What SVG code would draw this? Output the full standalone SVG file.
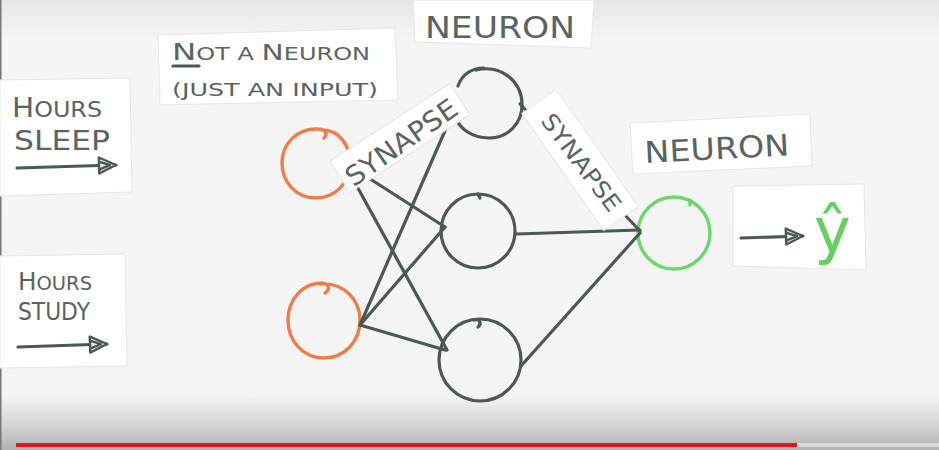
<svg xmlns="http://www.w3.org/2000/svg" width="939" height="450" viewBox="0 0 939 450">
<style>
.paper{fill:#fefefe;stroke:#e6e6e6;stroke-width:1}
.lbl{font-family:"DejaVu Sans","Liberation Sans",sans-serif;fill:#5a6461}
.pen{fill:none;stroke:#4d5753;stroke-width:3.2;stroke-linecap:round;stroke-linejoin:round}
.hid{fill:none;stroke:#4d5753;stroke-width:3.2;stroke-linecap:round}
.inp{fill:none;stroke:#f07c4a;stroke-width:3.4;stroke-linecap:round}
.out{fill:none;stroke:#6fd66a;stroke-width:3.4;stroke-linecap:round}
</style>
<defs>
<linearGradient id="bg" x1="0" y1="0" x2="0" y2="1">
<stop offset="0" stop-color="#e6e6e6"/>
<stop offset="0.09" stop-color="#f5f5f5"/>
<stop offset="0.88" stop-color="#f4f4f4"/>
<stop offset="0.94" stop-color="#d6d6d6"/>
<stop offset="1" stop-color="#b2b2b2"/>
</linearGradient>
<marker id="ah" markerWidth="24" markerHeight="20" refX="20" refY="10" orient="auto" markerUnits="userSpaceOnUse">
<path d="M3,2 L20,10 L3,18 Z M3,6 L14,10 L3,14" fill="#e9ecea" stroke="#4d5753" stroke-width="2.4" stroke-linejoin="round"/>
</marker>
</defs>
<rect x="0" y="0" width="939" height="450" fill="url(#bg)"/>
<rect x="0" y="0" width="1.5" height="450" fill="#777"/>

<g id="label-hours-sleep">
<polygon class="paper" points="0,80 130,78 132,192 0,196"/>
<text class="lbl" x="12" y="117" font-size="21" textLength="90" lengthAdjust="spacingAndGlyphs"><tspan font-size="26">H</tspan>OURS</text>
<text class="lbl" x="14" y="150" font-size="27" textLength="96" lengthAdjust="spacingAndGlyphs">SLEEP</text>
<line class="pen" x1="17" y1="168" x2="116" y2="165" marker-end="url(#ah)"/>
</g>

<g id="label-hours-study">
<polygon class="paper" points="0,256 125,254 127,366 0,368"/>
<text class="lbl" x="18" y="290" font-size="19" textLength="74" lengthAdjust="spacingAndGlyphs"><tspan font-size="24">H</tspan>OURS</text>
<text class="lbl" x="18" y="320" font-size="24" textLength="72" lengthAdjust="spacingAndGlyphs">STUDY</text>
<line class="pen" x1="18" y1="347" x2="107" y2="344" marker-end="url(#ah)"/>
</g>

<g id="label-not-a-neuron">
<polygon class="paper" points="158,35 395,28 398,100 160,105"/>
<text class="lbl" x="172" y="60" font-size="17" textLength="198" lengthAdjust="spacingAndGlyphs"><tspan font-size="23">N</tspan>OT A <tspan font-size="21">N</tspan>EURON</text>
<line class="pen" x1="173" y1="66" x2="199" y2="66" stroke-width="2.4"/>
<text class="lbl" x="172" y="96" font-size="18" textLength="206" lengthAdjust="spacingAndGlyphs">(JUST AN INPUT)</text>
</g>

<g id="label-neuron-top">
<polygon class="paper" points="413,0 594,0 591,48 415,42"/>
<text class="lbl" x="425" y="38" font-size="30" textLength="150" lengthAdjust="spacingAndGlyphs">NEURON</text>
</g>

<g id="label-neuron-right">
<polygon class="paper" points="630,123 810,114 812,166 633,174"/>
<text class="lbl" x="645" y="163" font-size="30" textLength="145" lengthAdjust="spacingAndGlyphs" transform="rotate(-3 645 163)">NEURON</text>
</g>

<g id="label-output">
<polygon class="paper" points="733,186 864,184 866,270 733,266"/>
<line class="pen" x1="741" y1="238" x2="803" y2="236" marker-end="url(#ah)"/>
<text x="814" y="252" font-size="62" font-family="DejaVu Sans,sans-serif" fill="#66d05f">ŷ</text>
</g>

<g id="input-1"><path class="inp" d="M322,130 C340,130 350,146 350,163 C350,184 334,198 316,198 C296,198 282,182 282,163 C282,143 298,128 318,129 C326,129 328,134 324,138"/></g>
<g id="input-2"><path class="inp" d="M320,284 C344,282 360,300 360,320 C360,342 344,358 324,358 C303,358 288,341 288,320 C288,299 303,283 322,283 C330,284 330,290 325,293"/></g>
<g id="hidden-1"><path class="hid" d="M476,70 C502,64 521,82 522,103 C523,124 507,138 489,138 C472,138 459,128 456,118 M458,86 C462,74 472,68 484,68"/></g>
<g id="hidden-2"><circle class="hid" cx="478" cy="231" r="37"/><path class="hid" d="M478,194 l2,4"/></g>
<g id="hidden-3"><circle class="hid" cx="480" cy="360" r="41"/><path class="hid" d="M474,320 c6,-2 8,4 4,7"/></g>
<g id="output"><circle class="out" cx="674" cy="233" r="36"/><path class="out" d="M690,200 l0,5"/></g>

<g id="connectors">
<line class="pen" x1="348" y1="170" x2="447" y2="350"/>
<line class="pen" x1="350" y1="166" x2="445" y2="227"/>
<line class="pen" x1="360" y1="325" x2="455" y2="108"/>
<line class="pen" x1="360" y1="325" x2="445" y2="227"/>
<line class="pen" x1="360" y1="325" x2="445" y2="350"/>
<line class="pen" x1="520" y1="104" x2="640" y2="231"/>
<line class="pen" x1="516" y1="234" x2="640" y2="230"/>
<line class="pen" x1="521" y1="366" x2="640" y2="233"/>
</g>

<g id="synapse-1">
<rect class="paper" x="-71.5" y="-18.5" width="143" height="37" transform="translate(400 138) rotate(-33)"/>
<text class="lbl" x="0" y="10" font-size="27" text-anchor="middle" textLength="130" lengthAdjust="spacingAndGlyphs" transform="translate(401 142) rotate(-35)">SYNAPSE</text>
</g>

<g id="synapse-2">
<rect class="paper" x="-71.5" y="-21" width="143" height="42" transform="translate(580 160) rotate(55)"/>
<text class="lbl" x="0" y="9" font-size="23" text-anchor="middle" textLength="116" lengthAdjust="spacingAndGlyphs" transform="translate(582 162) rotate(53)">SYNAPSE</text>
</g>

<rect x="16" y="443" width="781" height="4" fill="#e3151a"/>
<rect x="797" y="443" width="142" height="4" fill="#d9d9d9"/>
</svg>
